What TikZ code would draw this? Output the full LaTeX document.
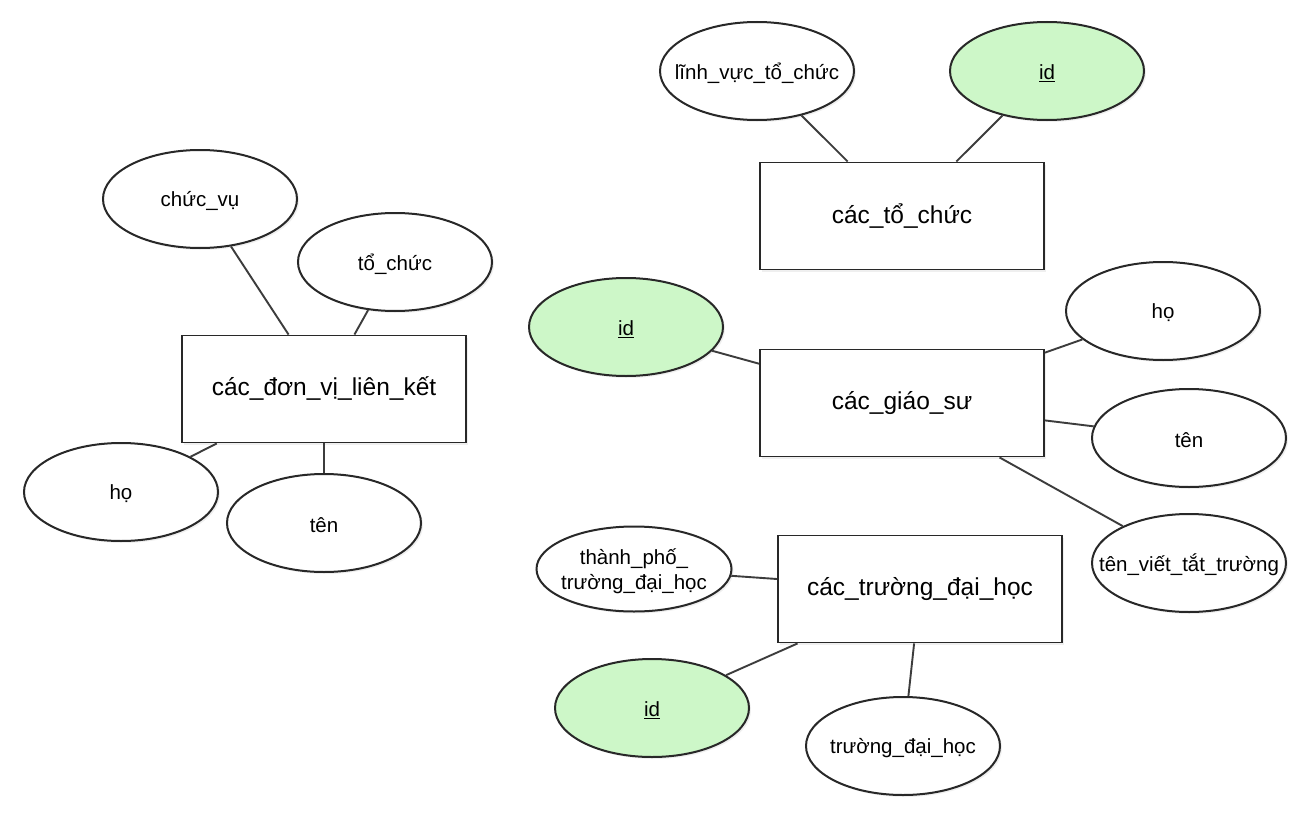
\documentclass[tikz,border=0pt]{standalone}
\usepackage{fontspec}
\setmainfont{Liberation Sans}
\usetikzlibrary{shapes.geometric,shadows}
\definecolor{keygreen}{RGB}{205,247,200}
\definecolor{edgecol}{RGB}{60,60,60}
\definecolor{bordercol}{RGB}{40,40,40}
\tikzset{
  entitybox/.style={draw=bordercol, line width=1.9pt, fill=white, rectangle,
    minimum width=284pt, minimum height=107pt, inner sep=0pt,
    font=\fontsize{24.5}{28}\selectfont,
    drop shadow={opacity=0.12, shadow xshift=2pt, shadow yshift=-2pt}},
  attr/.style={draw=bordercol, line width=2pt, fill=white, ellipse,
    minimum width=194pt, minimum height=98pt, inner sep=0pt,
    drop shadow={opacity=0.12, shadow xshift=2pt, shadow yshift=-2pt}},
  keyattr/.style={attr, fill=keygreen},
  attrtext/.style={align=center, inner sep=0pt, yshift=-2pt, font=\fontsize{20.5}{25.5}\selectfont},
  link/.style={draw=edgecol, line width=1.9pt}
}
\begin{document}
\begin{tikzpicture}[x=1pt,y=-1pt]
\useasboundingbox (0,0) rectangle (1312,816);
\fill[white] (0,0) rectangle (1312,816);

% entities
\node[entitybox] (org) at (902,216) {các\_tổ\_chức};
\node[entitybox] (aff) at (324,389) {các\_đơn\_vị\_liên\_kết};
\node[entitybox] (prof) at (902,403) {các\_giáo\_sư};
\node[entitybox] (univ) at (920,589) {các\_trường\_đại\_học};

% attributes (shapes)
\node[attr] (field) at (757,71) {};
\node[keyattr] (orgid) at (1047,71) {};
\node[attr] (pos) at (200,199) {};
\node[attr] (affOrg) at (395,262) {};
\node[attr] (affLast) at (121,492) {};
\node[attr] (affFirst) at (324,523) {};
\node[keyattr] (profid) at (626,327) {};
\node[attr] (profLast) at (1163,311) {};
\node[attr] (profFirst) at (1189,438) {};
\node[attr] (abbr) at (1189,563) {};
\node[attr, minimum width=195pt, minimum height=85pt] (city) at (634,569) {};
\node[keyattr] (univid) at (652,708) {};
\node[attr] (uname) at (903,746) {};

% attribute texts
\node[attrtext] (fieldT) at (field) {lĩnh\_vực\_tổ\_chức};
\node[attrtext] (orgidT) at (orgid) {\underline{id}};
\node[attrtext] (posT) at (pos) {chức\_vụ};
\node[attrtext] (affOrgT) at (affOrg) {tổ\_chức};
\node[attrtext] (affLastT) at (affLast) {họ};
\node[attrtext] (affFirstT) at (affFirst) {tên};
\node[attrtext] (profidT) at (profid) {\underline{id}};
\node[attrtext] (profLastT) at (profLast) {họ};
\node[attrtext] (profFirstT) at (profFirst) {tên};
\node[attrtext] (abbrT) at (abbr) {tên\_viết\_tắt\_trường};
\node[attrtext] (cityT) at (city) {thành\_phố\_\\trường\_đại\_học};
\node[attrtext] (unividT) at (univid) {\underline{id}};
\node[attrtext] (unameT) at (uname) {trường\_đại\_học};

% connectors
\draw[link] (field) -- (org);
\draw[link] (orgid) -- (org);
\draw[link] (pos) -- (aff);
\draw[link] (affOrg) -- (aff);
\draw[link] (affLast) -- (aff);
\draw[link] (affFirst) -- (aff);
\draw[link] (profid) -- (prof);
\draw[link] (profLast) -- (prof);
\draw[link] (profFirst) -- (prof);
\draw[link] (abbr) -- (prof);
\draw[link] (city) -- (univ);
\draw[link] (univid) -- (univ);
\draw[link] (uname) -- (univ);
\end{tikzpicture}
\end{document}
